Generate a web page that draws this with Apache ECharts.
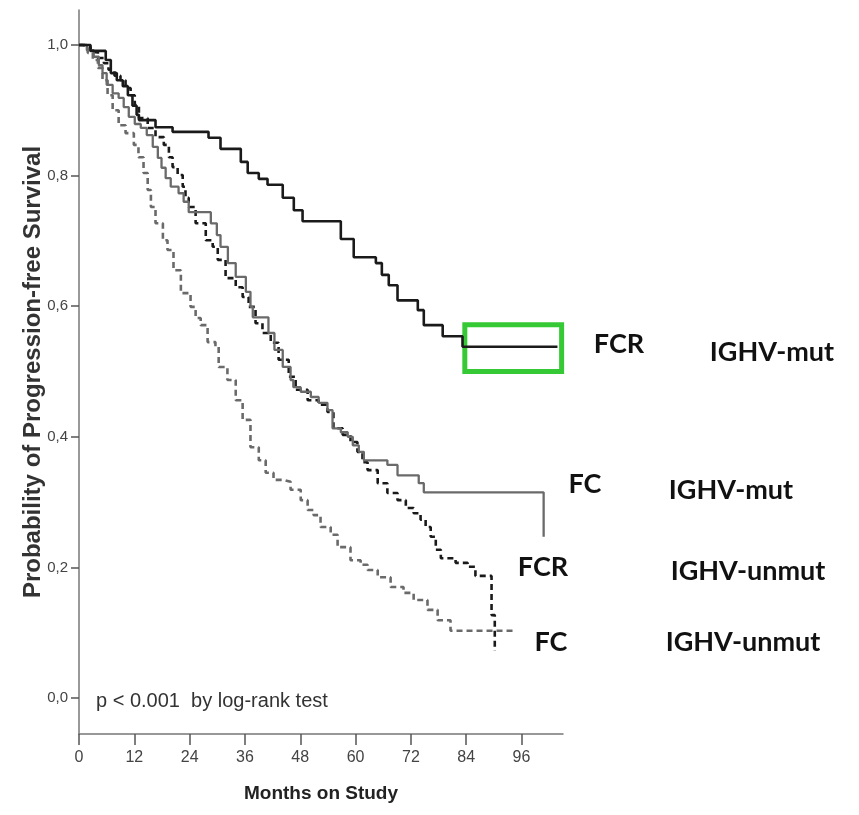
<!DOCTYPE html>
<html>
<head>
<meta charset="utf-8">
<script src="https://cdn.jsdelivr.net/npm/echarts@6/dist/echarts.min.js"></script>
<style>html,body{margin:0;padding:0;background:#fff}#main{width:859px;height:815px}</style>
</head>
<body>
<div id="main"></div>
<script>
// FCR, IGHV-mut (solid black)
var fcrMutMonths = [0, 2.5, 5.8, 6.9, 8.2, 9.5, 10.6, 11.6, 12.5, 13.0, 16.6, 20.3, 28.1, 30.7, 35.1, 36.6, 39.0, 40.9, 44.2, 46.6, 48.5, 56.8, 59.6, 64.4, 65.7, 67.2, 69.1, 73.5, 74.8, 78.9, 83.2, 103.8];
var fcrMutSurv   = [1.0, 0.991, 0.977, 0.957, 0.946, 0.937, 0.923, 0.907, 0.893, 0.885, 0.874, 0.867, 0.858, 0.841, 0.821, 0.804, 0.795, 0.786, 0.766, 0.747, 0.730, 0.703, 0.675, 0.666, 0.648, 0.632, 0.609, 0.594, 0.571, 0.554, 0.538, 0.538];
// FC, IGHV-mut (solid grey)
var fcMutMonths = [0, 1.7, 3.2, 4.3, 5.1, 6.0, 7.3, 8.6, 9.7, 10.8, 12.1, 13.4, 14.7, 16.0, 17.1, 17.9, 18.8, 19.9, 21.6, 22.7, 23.8, 28.6, 29.9, 30.7, 32.3, 34.0, 36.2, 37.2, 37.7, 41.1, 42.4, 44.2, 45.9, 46.5, 48.1, 50.3, 52.0, 53.9, 55.0, 56.8, 58.3, 59.4, 60.7, 61.8, 66.9, 69.1, 73.7, 74.8, 100.8];
var fcMutSurv   = [1.0, 0.992, 0.982, 0.969, 0.957, 0.939, 0.926, 0.919, 0.905, 0.890, 0.879, 0.873, 0.862, 0.844, 0.827, 0.812, 0.796, 0.783, 0.773, 0.760, 0.744, 0.727, 0.709, 0.691, 0.666, 0.645, 0.622, 0.599, 0.583, 0.559, 0.533, 0.507, 0.487, 0.476, 0.469, 0.461, 0.452, 0.441, 0.413, 0.407, 0.400, 0.387, 0.377, 0.364, 0.357, 0.341, 0.329, 0.315, 0.247];
// FCR, IGHV-unmut (dashed black)
var fcrUnmutMonths = [0, 1.2, 2.5, 4.1, 5.4, 6.4, 7.7, 9.0, 10.1, 11.2, 12.1, 13.0, 14.9, 16.6, 18.4, 19.5, 20.3, 21.4, 22.5, 23.1, 23.8, 25.3, 27.5, 29.0, 30.1, 31.8, 34.0, 35.5, 36.8, 38.3, 39.8, 41.6, 43.3, 45.5, 47.0, 49.6, 52.0, 53.9, 55.2, 57.2, 58.9, 60.4, 61.5, 62.6, 64.8, 66.9, 69.1, 70.9, 72.6, 74.1, 75.2, 76.3, 77.4, 78.5, 81.7, 84.3, 86.0, 89.5, 90.2];
var fcrUnmutSurv   = [1.0, 0.997, 0.989, 0.980, 0.972, 0.962, 0.953, 0.946, 0.934, 0.923, 0.908, 0.888, 0.873, 0.859, 0.847, 0.828, 0.813, 0.801, 0.783, 0.766, 0.752, 0.727, 0.701, 0.691, 0.671, 0.643, 0.629, 0.614, 0.599, 0.574, 0.559, 0.544, 0.518, 0.492, 0.472, 0.456, 0.449, 0.438, 0.413, 0.403, 0.392, 0.377, 0.361, 0.349, 0.329, 0.314, 0.303, 0.291, 0.283, 0.273, 0.262, 0.247, 0.227, 0.214, 0.207, 0.201, 0.187, 0.127, 0.072];
// FC, IGHV-unmut (dashed grey)
var fcUnmutMonths = [0, 0.8, 1.9, 3.0, 4.1, 5.1, 6.2, 7.3, 8.6, 10.1, 11.9, 12.9, 14.0, 14.9, 15.6, 16.6, 18.2, 19.2, 20.5, 22.1, 24.2, 25.3, 26.4, 27.9, 29.6, 30.3, 32.2, 34.0, 35.5, 37.2, 39.0, 40.5, 42.2, 44.4, 45.9, 48.1, 49.6, 50.9, 52.4, 54.6, 56.1, 58.9, 61.1, 62.6, 64.8, 67.6, 70.4, 72.6, 75.6, 77.8, 80.6, 94.7];
var fcUnmutSurv   = [1.0, 0.997, 0.988, 0.977, 0.965, 0.946, 0.923, 0.900, 0.877, 0.865, 0.847, 0.828, 0.804, 0.778, 0.752, 0.727, 0.701, 0.686, 0.655, 0.620, 0.599, 0.582, 0.571, 0.545, 0.538, 0.507, 0.487, 0.456, 0.426, 0.384, 0.364, 0.345, 0.334, 0.331, 0.319, 0.303, 0.288, 0.280, 0.262, 0.250, 0.231, 0.211, 0.204, 0.196, 0.185, 0.170, 0.161, 0.150, 0.135, 0.119, 0.103, 0.103];

var xTicks = [0, 12, 24, 36, 48, 60, 72, 84, 96];
var yTicks = [0, 0.2, 0.4, 0.6, 0.8, 1.0];
// highlighted region (months, survival)
var boxMonths = [83.7, 104.7];
var boxSurv = [0.5715, 0.500];

function zip(a, b) {
    var out = [];
    for (var i = 0; i < a.length; i++) out.push([a[i], b[i]]);
    return out;
}

var narrow = '"Liberation Sans Narrow", "Liberation Sans", Arial, sans-serif';
var labelFont = 'bold 27px Lato, "Open Sans", sans-serif';

var myChart = echarts.init(document.getElementById('main'));
var option = {
    animation: false,
    backgroundColor: '#fff',
    grid: { left: 79, right: 296, top: 10, bottom: 81 },
    xAxis: {
        type: 'value',
        min: 0,
        max: 105,
        name: 'Months on Study',
        nameLocation: 'middle',
        nameGap: 50,
        nameTextStyle: { fontFamily: narrow, fontWeight: 'bold', fontSize: 19, color: '#222' },
        axisLine: { onZero: false, lineStyle: { color: '#777', width: 1.5 } },
        axisTick: { show: true, inside: false, length: 11, customValues: xTicks, lineStyle: { color: '#555', width: 1.5 } },
        axisLabel: { customValues: xTicks, margin: 16, fontFamily: narrow, fontSize: 16, color: '#444' },
        splitLine: { show: false }
    },
    yAxis: {
        type: 'value',
        min: -0.0551,
        max: 1.0536,
        name: 'Probability of Progression-free Survival',
        nameLocation: 'middle',
        nameGap: 34,
        nameMoveOverlap: false,
        nameRotate: 90,
        nameTextStyle: { fontFamily: '"Liberation Sans", Arial, sans-serif', fontWeight: 'bold', fontSize: 24, color: '#333' },
        axisLine: { show: true, onZero: false, lineStyle: { color: '#777', width: 1.5 } },
        axisTick: { show: true, length: 8, customValues: yTicks, lineStyle: { color: '#555', width: 1.5 } },
        axisLabel: {
            customValues: yTicks,
            margin: 11,
            fontFamily: narrow,
            fontSize: 15,
            color: '#444',
            formatter: function (v) { return v.toFixed(1).replace('.', ','); }
        },
        splitLine: { show: false }
    },
    series: [
        {
            name: 'FCR IGHV-mut',
            type: 'line',
            step: 'end',
            symbol: 'none',
            data: zip(fcrMutMonths, fcrMutSurv),
            lineStyle: { color: '#1a1a1a', width: 2.6 },
            markArea: {
                silent: true,
                itemStyle: { color: 'rgba(0,0,0,0)', borderColor: '#36c936', borderWidth: 5 },
                data: [[{ xAxis: boxMonths[0], yAxis: boxSurv[0] }, { xAxis: boxMonths[1], yAxis: boxSurv[1] }]]
            },
            z: 4
        },
        {
            name: 'FC IGHV-mut',
            type: 'line',
            step: 'end',
            symbol: 'none',
            data: zip(fcMutMonths, fcMutSurv),
            lineStyle: { color: '#6a6a6a', width: 2.3 },
            z: 3
        },
        {
            name: 'FCR IGHV-unmut',
            type: 'line',
            step: 'end',
            symbol: 'none',
            data: zip(fcrUnmutMonths, fcrUnmutSurv),
            lineStyle: { color: '#1a1a1a', width: 2.6, type: [6, 4] },
            z: 2
        },
        {
            name: 'FC IGHV-unmut',
            type: 'line',
            step: 'end',
            symbol: 'none',
            data: zip(fcUnmutMonths, fcUnmutSurv),
            lineStyle: { color: '#6a6a6a', width: 2.6, type: [6, 4] },
            z: 1
        }
    ],
    graphic: [
        { type: 'text', x: 96, y: 701, style: { text: 'p < 0.001  by log-rank test', font: '20px ' + narrow, fill: '#333', textVerticalAlign: 'middle' } },
        { type: 'text', x: 619, y: 344, style: { text: 'FCR', font: labelFont, fill: '#111', textAlign: 'center', textVerticalAlign: 'middle' } },
        { type: 'text', x: 772, y: 352, style: { text: 'IGHV-mut', font: labelFont, fill: '#111', textAlign: 'center', textVerticalAlign: 'middle' } },
        { type: 'text', x: 585, y: 484, style: { text: 'FC', font: labelFont, fill: '#111', textAlign: 'center', textVerticalAlign: 'middle' } },
        { type: 'text', x: 731, y: 490, style: { text: 'IGHV-mut', font: labelFont, fill: '#111', textAlign: 'center', textVerticalAlign: 'middle' } },
        { type: 'text', x: 543, y: 567, style: { text: 'FCR', font: labelFont, fill: '#111', textAlign: 'center', textVerticalAlign: 'middle' } },
        { type: 'text', x: 748, y: 571, style: { text: 'IGHV-unmut', font: labelFont, fill: '#111', textAlign: 'center', textVerticalAlign: 'middle' } },
        { type: 'text', x: 551, y: 642, style: { text: 'FC', font: labelFont, fill: '#111', textAlign: 'center', textVerticalAlign: 'middle' } },
        { type: 'text', x: 743, y: 642, style: { text: 'IGHV-unmut', font: labelFont, fill: '#111', textAlign: 'center', textVerticalAlign: 'middle' } }
    ]
};
myChart.setOption(option);
</script>
</body>
</html>
